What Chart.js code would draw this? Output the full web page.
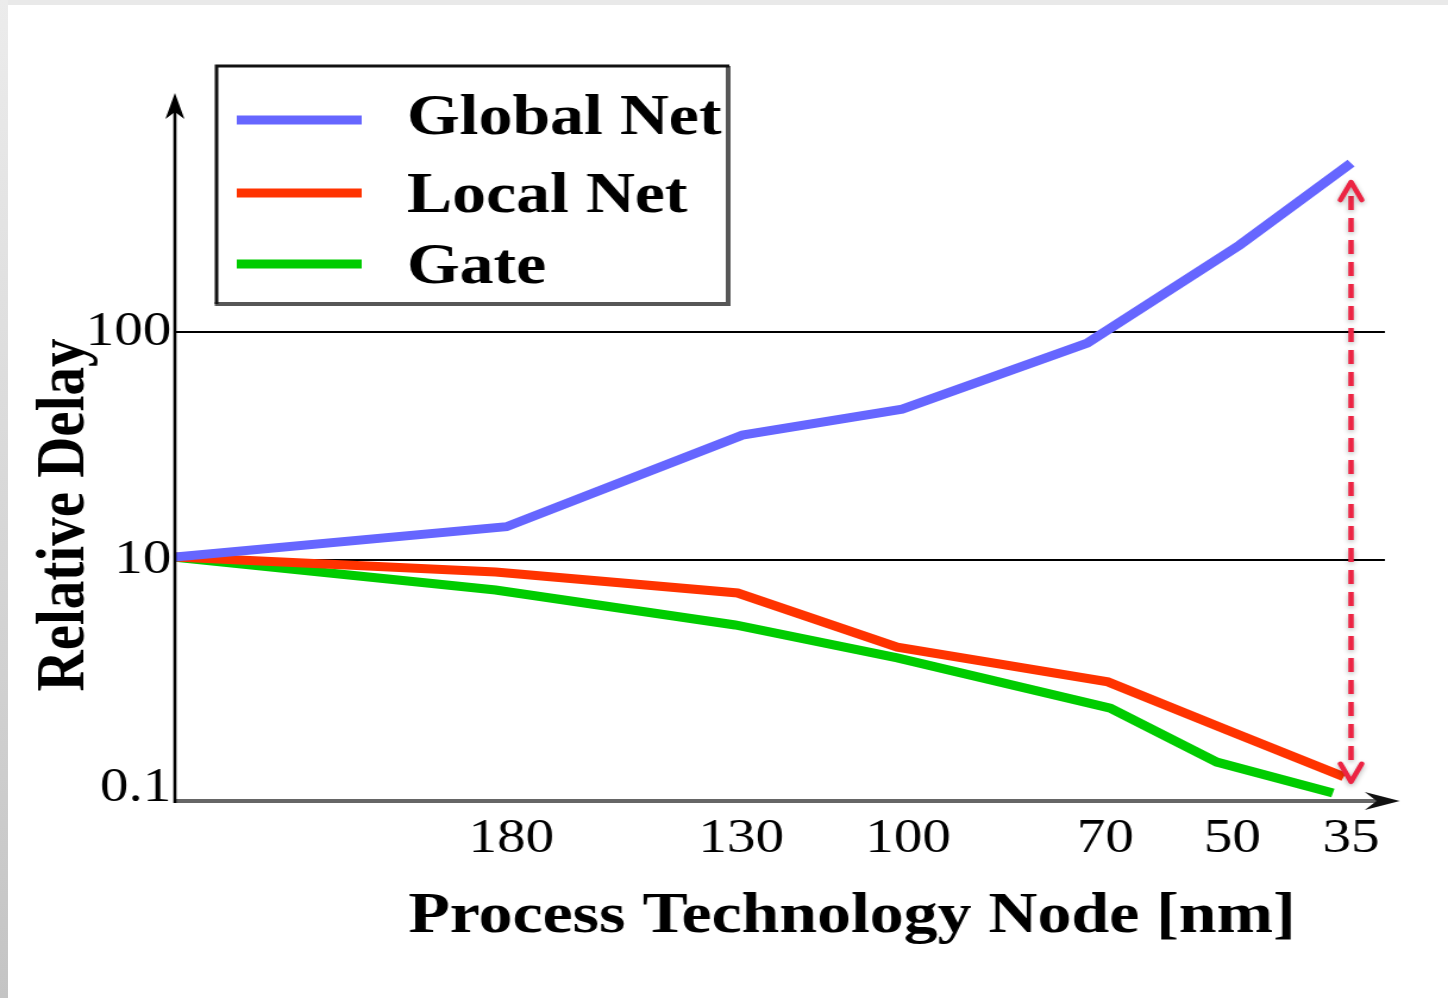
<!DOCTYPE html>
<html lang="en">
<head>
  <meta charset="UTF-8">
  <title>Relative Delay vs Process Technology Node</title>
  <script src="https://cdn.jsdelivr.net/npm/chart.js"></script>
  <style>
    html, body { margin: 0; padding: 0; background: #fff; overflow: hidden; }
    /* the original figure is stretched sideways, so the canvas is too */
    #wrap { position: absolute; left: 0; top: 0; width: 1217px; height: 998px; transform: scaleX(1.1898); transform-origin: 0 0; }
    #edgeTop { position: absolute; left: 0; top: 0; width: 1448px; height: 5px; background: #e9e9e9; }
    #edgeLeft { position: absolute; left: 0; top: 0; width: 8px; height: 998px; background: linear-gradient(#ececec, #c4c4c4); }
  </style>
</head>
<body>
  <div id="wrap"><canvas id="delayChart" width="1217" height="998"></canvas></div>
  <div id="edgeTop"></div>
  <div id="edgeLeft"></div>

  <script>
    // x axis: where each node sits along the axis (0 = origin, 100 = right end)
    const nodeLabels = ['180', '130', '100', '70', '50', '35'];
    const nodePos = [27.8, 46.8, 60.6, 76.9, 87.4, 97.2];

    // y axis ticks (labels as printed on the figure)
    const yTickVals = [1, 10, 100];
    const yTickLabels = ['0.1', '10', '100'];

    // series
    const globalX = [0, 27.4, 46.9, 60.1, 75.4, 88.0, 97.2];
    const globalY = [10.3, 14, 35.3, 45.9, 89.5, 241, 551];
    const localX = [0, 26.5, 46.5, 59.7, 77.1, 86.9, 96.6];
    const localY = [10.3, 8.86, 7.17, 4.15, 2.92, 1.80, 1.12];
    const gateX = [0, 26.5, 46.3, 59.7, 77.3, 86.1, 95.7];
    const gateY = [10.3, 7.39, 5.19, 3.72, 2.24, 1.30, 0.95];

    const serif = "'Liberation Serif', 'Times New Roman', serif";
    const pts = (xs, ys) => xs.map((x, i) => ({ x: x, y: ys[i] }));

    // axes with arrows, legend box, titles and the red double arrow
    const decor = {
      id: 'decor',
      afterDatasetsDraw(chart) {
        const { ctx, chartArea: a } = chart;
        ctx.save();
        // x axis
        ctx.strokeStyle = '#666';
        ctx.lineWidth = 4;
        ctx.beginPath();
        ctx.moveTo(a.left, a.bottom);
        ctx.lineTo(a.right + 6, a.bottom);
        ctx.stroke();
        ctx.fillStyle = '#111';
        ctx.beginPath();
        ctx.moveTo(a.right + 12.5, a.bottom);
        ctx.lineTo(a.right - 17, a.bottom - 9);
        ctx.lineTo(a.right - 7, a.bottom);
        ctx.lineTo(a.right - 17, a.bottom + 9);
        ctx.closePath();
        ctx.fill();
        // y axis
        ctx.strokeStyle = '#000';
        ctx.lineWidth = 2.6;
        ctx.beginPath();
        ctx.moveTo(a.left, a.bottom + 2);
        ctx.lineTo(a.left, a.top + 4);
        ctx.stroke();
        ctx.fillStyle = '#000';
        ctx.beginPath();
        ctx.moveTo(a.left, a.top - 4);
        ctx.lineTo(a.left - 8, a.top + 22);
        ctx.lineTo(a.left, a.top + 15);
        ctx.lineTo(a.left + 8, a.top + 22);
        ctx.closePath();
        ctx.fill();
        ctx.restore();
      },
      afterDraw(chart) {
        const { ctx, scales: { x, y } } = chart;
        ctx.save();

        // legend box
        const box = { l: 182, t: 66, r: 612, b: 304 };
        ctx.fillStyle = '#fff';
        ctx.fillRect(box.l, box.t, box.r - box.l, box.b - box.t);
        ctx.strokeStyle = '#575757';
        ctx.lineWidth = 4;
        ctx.beginPath();
        ctx.moveTo(box.r, box.t);
        ctx.lineTo(box.r, box.b);
        ctx.lineTo(box.l - 1.5, box.b);
        ctx.stroke();
        ctx.strokeStyle = '#111';
        ctx.lineWidth = 3;
        ctx.beginPath();
        ctx.moveTo(box.l, box.b);
        ctx.lineTo(box.l, box.t);
        ctx.lineTo(box.r + 1, box.t);
        ctx.stroke();

        const rowLine = [120, 193, 264];
        const rowText = [134, 212, 283];
        ctx.font = 'bold 57px ' + serif;
        ctx.textAlign = 'left';
        ctx.textBaseline = 'alphabetic';
        chart.data.datasets.forEach((ds, i) => {
          ctx.strokeStyle = ds.borderColor;
          ctx.lineWidth = 9;
          ctx.beginPath();
          ctx.moveTo(199, rowLine[i]);
          ctx.lineTo(304, rowLine[i]);
          ctx.stroke();
          ctx.fillStyle = '#000';
          ctx.fillText(ds.label, 342, rowText[i]);
        });

        // axis titles
        ctx.fillStyle = '#000';
        ctx.font = 'bold 57px ' + serif;
        ctx.textAlign = 'center';
        ctx.fillText('Process Technology Node [nm]', 716, 932);
        ctx.save();
        ctx.translate(70, 515);
        ctx.rotate(-Math.PI / 2);
        ctx.fillText('Relative Delay', 0, 0);
        ctx.restore();

        // red dashed double arrow between Global Net and Local Net at the last node
        const ax = x.getPixelForValue(nodePos[nodePos.length - 1]);
        const top = y.getPixelForValue(globalY[globalY.length - 1]) + 19;
        const bot = y.getPixelForValue(localY[localY.length - 1]) + 5;
        ctx.shadowColor = 'rgba(0,0,0,0.3)';
        ctx.shadowBlur = 5;
        ctx.shadowOffsetY = 2;
        ctx.strokeStyle = '#ec2443';
        ctx.lineWidth = 4.5;
        ctx.setLineDash([14, 8]);
        ctx.beginPath();
        ctx.moveTo(ax, top + 14);
        ctx.lineTo(ax, bot - 14);
        ctx.stroke();
        ctx.setLineDash([]);
        ctx.lineCap = 'round';
        ctx.lineJoin = 'round';
        ctx.beginPath();
        ctx.moveTo(ax - 9, top + 18);
        ctx.lineTo(ax, top);
        ctx.lineTo(ax + 9, top + 18);
        ctx.moveTo(ax - 9, bot - 18);
        ctx.lineTo(ax, bot);
        ctx.lineTo(ax + 9, bot - 18);
        ctx.stroke();
        ctx.restore();
      }
    };

    new Chart(document.getElementById('delayChart'), {
      type: 'line',
      data: {
        datasets: [
          { label: 'Global Net', data: pts(globalX, globalY), borderColor: '#6666ff' },
          { label: 'Local Net', data: pts(localX, localY), borderColor: '#ff3300' },
          { label: 'Gate', data: pts(gateX, gateY), borderColor: '#00cc00' }
        ]
      },
      options: {
        responsive: false,
        animation: false,
        layout: { padding: { left: 0, top: 97, right: 53, bottom: 0 } },
        elements: {
          line: { borderWidth: 9, tension: 0, fill: false },
          point: { radius: 0 }
        },
        plugins: { legend: { display: false }, tooltip: { enabled: false } },
        scales: {
          x: {
            type: 'linear',
            min: 0,
            max: 100,
            bounds: 'data',
            afterBuildTicks: s => { s.ticks = nodePos.map(v => ({ value: v })); },
            afterFit: s => { s.height = 197; },
            grid: { display: false },
            border: { display: false },
            ticks: {
              autoSkip: false,
              maxRotation: 0,
              padding: 2,
              color: '#000',
              font: { family: serif, size: 48 },
              callback: (v, i) => nodeLabels[i]
            }
          },
          y: {
            type: 'logarithmic',
            min: 0.877,
            max: 1074,
            bounds: 'data',
            afterBuildTicks: s => { s.ticks = yTickVals.map(v => ({ value: v })); },
            afterFit: s => { s.width = 147; },
            grid: {
              drawTicks: false,
              lineWidth: 2,
              color: c => (c.tick && c.tick.value === 1) ? 'rgba(0,0,0,0)' : '#000'
            },
            border: { display: false },
            ticks: {
              autoSkip: false,
              padding: 3,
              color: '#000',
              font: { family: serif, size: 48 },
              callback: (v, i) => yTickLabels[i]
            }
          }
        }
      },
      plugins: [decor]
    });
  </script>
</body>
</html>
